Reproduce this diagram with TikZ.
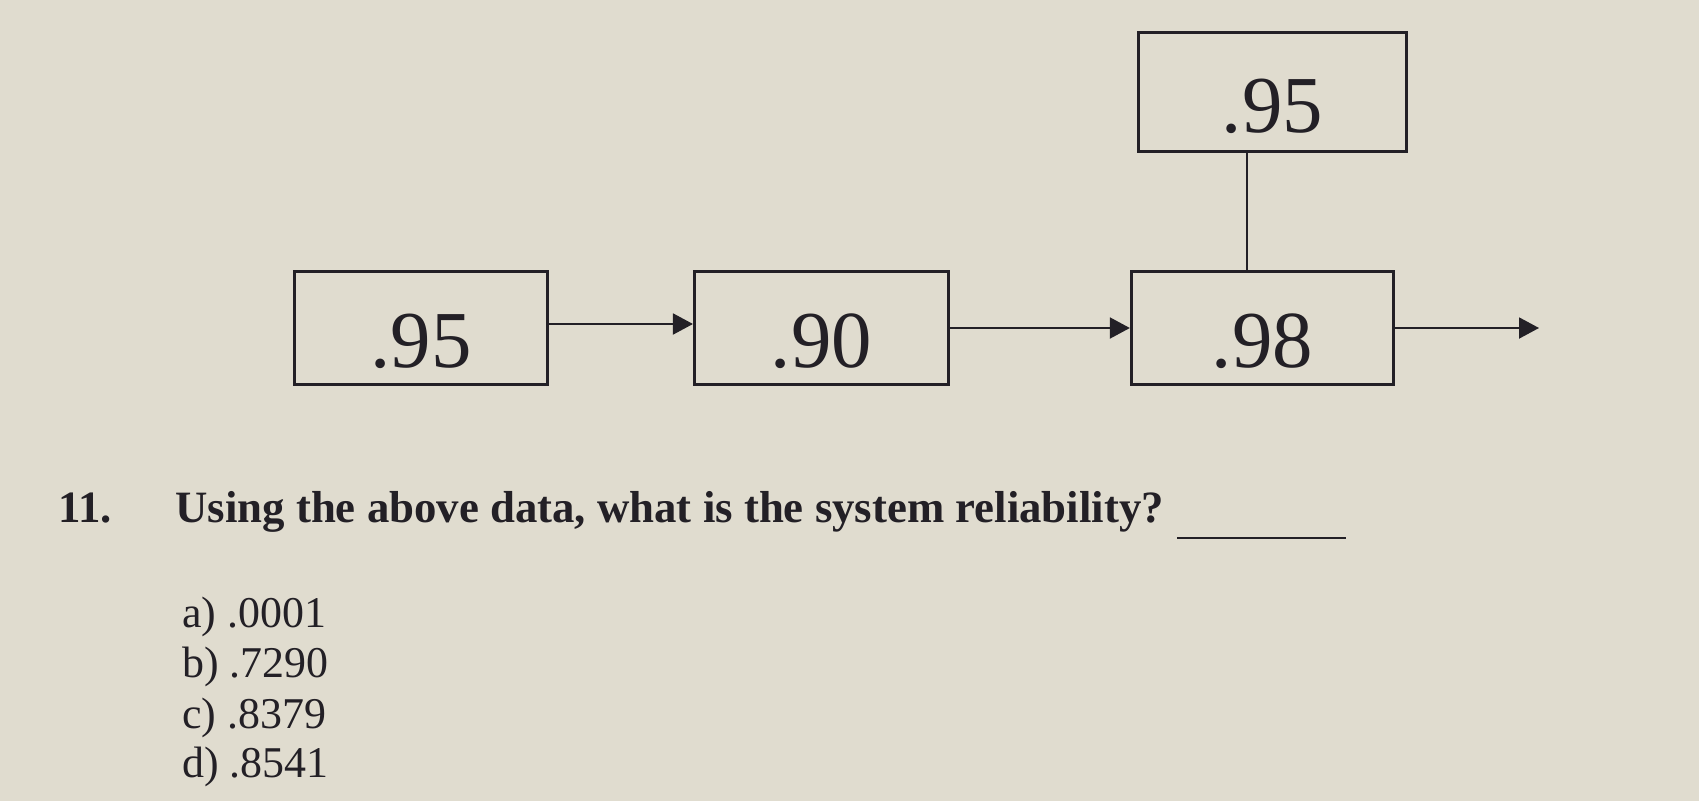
\documentclass[tikz,border=0pt]{standalone}
\usepackage{fontspec}
\setmainfont{Liberation Serif}
\usetikzlibrary{positioning}
\usetikzlibrary{arrows.meta}

\definecolor{paper}{RGB}{224,220,207}
\definecolor{ink}{RGB}{35,32,38}

\begin{document}
\begin{tikzpicture}[
    x=0.02cm, y=-0.02cm,
    every node/.style={text=ink},
    block/.style={
      draw=ink,
      line width=1.7pt,
      minimum height=2.26cm,
      text height=1.6cm,
      text depth=0pt,
      font=\fontsize{46}{50}\selectfont
    },
    flow/.style={
      draw=ink,
      line width=1.1pt,
      -{Triangle[length=0.4cm,width=0.42cm]}
    },
    label text/.style={inner sep=0pt, anchor=base west}
    ]
    \fill[paper] (0,0) rectangle (1699,801);
    \useasboundingbox (0,0) rectangle (1699,801);

    % blocks in series, with the spare one on top
    \node[block, minimum width=5.06cm] (b1) at (421,328) {.95};
    \node[block, minimum width=5.08cm] (b2) [right=2.88cm of b1] {.90};
    \node[block, minimum width=5.24cm] (b3) [right=3.6cm of b2] {.98};
    \node[block, minimum width=5.36cm, minimum height=2.38cm] (b4) [above=2.34cm of b3, xshift=0.2cm] {.95};
    \coordinate (out) at (1539,328);

    \draw[flow] ([yshift=0.08cm]b1.east) -- ([yshift=0.08cm]b2.west);
    \draw[flow] (b2.east) -- (b3.west);
    \draw[flow] (b3.east) -- (out);
    \draw[draw=ink, line width=1.2pt] ([xshift=-0.5cm]b4.south) -- ([xshift=-0.3cm]b3.north);

    % question
    \node[label text, anchor=base east, font=\fontsize{25.5}{31}\selectfont\bfseries] (num) at (112,522) {11.};
    \node[label text, font=\fontsize{25.5}{31}\selectfont\bfseries] (question) at (175,522)
      {Using the above data, what is the system reliability?};
    \draw[ink, line width=1.6pt] (1177,538) -- (1346,538);

    \foreach \lab/\val/\y in {a/.0001/627, b/.7290/677, c/.8379/728, d/.8541/777}{
      \node[label text, font=\fontsize{25}{30}\selectfont] (opt\lab) at (182,\y) {\lab) \val};
    }
  \end{tikzpicture}
\end{document}
